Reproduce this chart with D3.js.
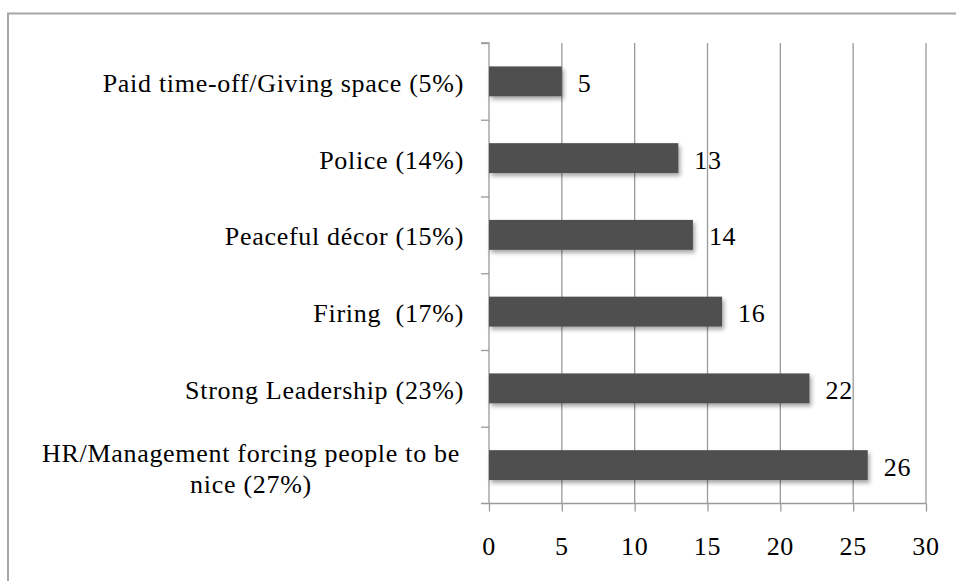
<!DOCTYPE html>
<html>
<head>
<meta charset="utf-8">
<script src="https://cdn.jsdelivr.net/npm/d3@7"></script>
<style>
  body { margin: 0; background: #fff; }
  svg text { font-family: "Liberation Serif", serif; fill: #000; letter-spacing: 0.7px; white-space: pre; }
</style>
</head>
<body>
<div id="chart"></div>
<script>
const categories = [
  "Paid time-off/Giving space (5%)",
  "Police (14%)",
  "Peaceful décor (15%)",
  "Firing  (17%)",
  "Strong Leadership (23%)",
  "HR/Management forcing people to be|nice (27%)"
];
const values = [5, 13, 14, 16, 22, 26];
const xTicks = [0, 5, 10, 15, 20, 25, 30];

const width = 956;
const height = 581;
const fontSize = 26;

const svg = d3.select("#chart")
  .append("svg")
  .attr("width", width)
  .attr("height", height);

const defs = svg.append("defs");
defs.append("filter")
  .attr("id", "shadow")
  .attr("x", "-10%").attr("y", "-30%")
  .attr("width", "120%").attr("height", "180%")
  .append("feDropShadow")
  .attr("dx", 2)
  .attr("dy", 3)
  .attr("stdDeviation", 2)
  .attr("flood-color", "#000")
  .attr("flood-opacity", 0.35);

// outer frame
svg.append("path")
  .attr("d", `M8,${height} V13.5 H${width}`)
  .attr("fill", "none")
  .attr("stroke", "#a6a6a6")
  .attr("stroke-width", 2);

const x = d3.scaleLinear()
  .domain([0, 30])
  .range([489, 926]);

const y = d3.scaleBand()
  .domain(categories)
  .range([43, 503.5])
  .paddingInner(0.61)
  .paddingOuter(0.305);

const yEdge = d3.scaleLinear()
  .domain([0, categories.length])
  .range([43, 503.5]);

const gridColor = "#9a9a9a";

// vertical gridlines
svg.append("g")
  .selectAll("line")
  .data(xTicks.slice(1))
  .enter().append("line")
  .attr("x1", d => x(d))
  .attr("x2", d => x(d))
  .attr("y1", yEdge(0))
  .attr("y2", yEdge(categories.length))
  .attr("stroke", gridColor)
  .attr("stroke-width", 1.3);

// x axis
const xAxis = svg.append("g")
  .attr("transform", `translate(0,${yEdge(categories.length)})`)
  .call(d3.axisBottom(x).tickValues(xTicks).tickSize(8).tickFormat(""));
xAxis.select(".domain").remove();
xAxis.selectAll(".tick line").attr("stroke", gridColor).attr("stroke-width", 1.3);

svg.append("line")
  .attr("x1", 481)
  .attr("x2", x(30))
  .attr("y1", yEdge(categories.length))
  .attr("y2", yEdge(categories.length))
  .attr("stroke", gridColor)
  .attr("stroke-width", 1.3);

svg.append("g")
  .selectAll("text")
  .data(xTicks)
  .enter().append("text")
  .attr("x", d => x(d))
  .attr("y", 555)
  .attr("text-anchor", "middle")
  .style("font-size", fontSize + "px")
  .text(d => d);

// y axis
const yAxis = svg.append("g")
  .attr("transform", `translate(${x(0)},0)`)
  .call(d3.axisLeft(yEdge).tickValues(d3.range(categories.length)).tickSize(8).tickFormat(""));
yAxis.select(".domain")
  .attr("d", `M-8,${yEdge(0)}H0V${yEdge(categories.length)}`)
  .attr("stroke", gridColor)
  .attr("stroke-width", 1.3);
yAxis.selectAll(".tick line").attr("stroke", gridColor).attr("stroke-width", 1.3);

// bars
svg.append("g")
  .selectAll("rect")
  .data(categories)
  .enter().append("rect")
  .attr("x", x(0))
  .attr("y", d => y(d))
  .attr("width", (d, i) => x(values[i]) - x(0))
  .attr("height", y.bandwidth())
  .attr("fill", "#505050")
  .attr("filter", "url(#shadow)");

// value labels
svg.append("g")
  .selectAll("text")
  .data(categories)
  .enter().append("text")
  .attr("x", (d, i) => x(values[i]) + 16)
  .attr("y", d => y(d) + y.bandwidth() / 2)
  .attr("dy", "0.4em")
  .style("font-size", fontSize + "px")
  .text((d, i) => values[i]);

// category labels
svg.append("g")
  .selectAll("text")
  .data(categories)
  .enter().append("text")
  .attr("text-anchor", "end")
  .attr("y", d => y(d) + y.bandwidth() / 2)
  .style("font-size", fontSize + "px")
  .each(function(d) {
    const lines = d.split("|");
    const t = d3.select(this);
    const cx = lines.length > 1 ? 251 : 464;
    if (lines.length > 1) t.attr("text-anchor", "middle");
    lines.forEach((line, i) => {
      t.append("tspan")
        .attr("x", cx)
        .attr("dy", i === 0 ? (lines.length > 1 ? "-0.12em" : "0.4em") : "1.2em")
        .text(line);
    });
  });
</script>
</body>
</html>
